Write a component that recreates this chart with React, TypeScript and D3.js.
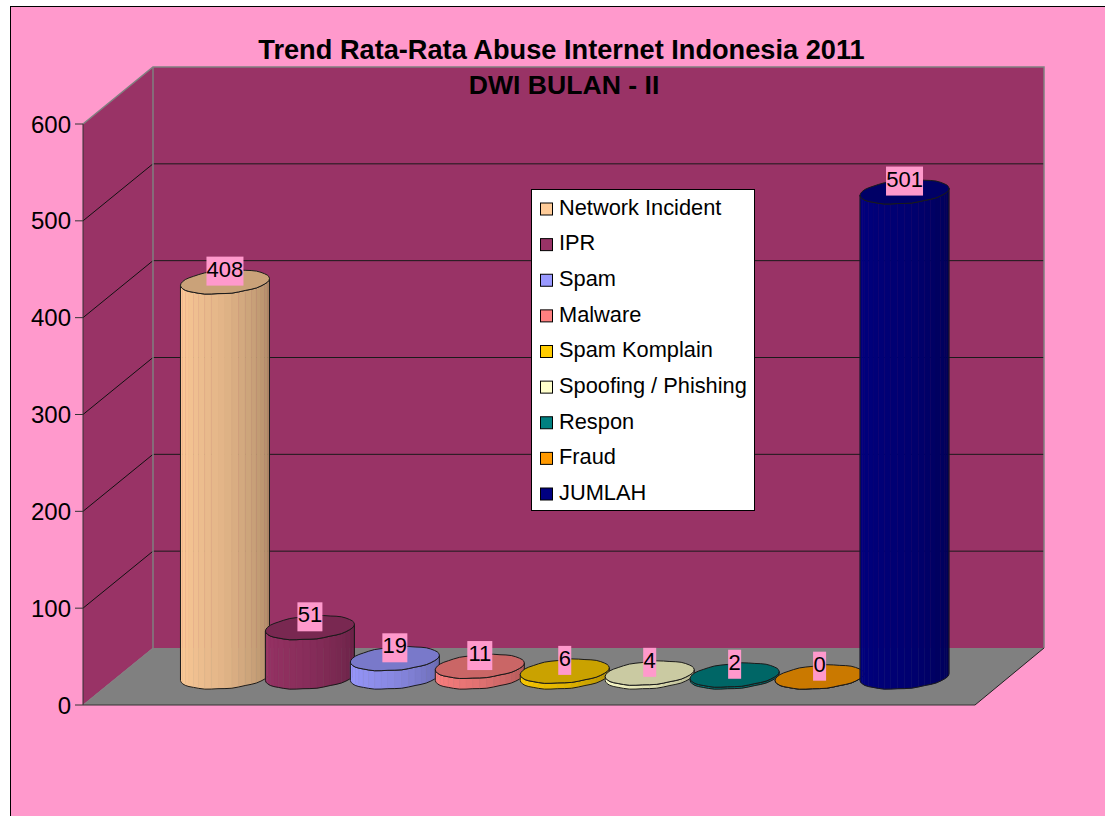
import React from "react";
import * as d3 from "d3";

const categories = ["Network Incident", "IPR", "Spam", "Malware", "Spam Komplain", "Spoofing / Phishing", "Respon", "Fraud", "JUMLAH"];
const values = [408, 51, 19, 11, 6, 4, 2, 0, 501];
const colors = ["#FFCC99", "#993366", "#9999FF", "#FF8080", "#FFCC00", "#FFFFCC", "#008080", "#FF9900", "#000080"];
const tickValues = [0, 100, 200, 300, 400, 500, 600];
const gridValues = [100, 200, 300, 400, 500];
const titleLines = ["Trend Rata-Rata Abuse Internet Indonesia 2011", "DWI BULAN - II"];

const font = "'Liberation Sans', Arial, sans-serif";
const BG = "#FF99CC", WALL = "#993366", FLOOR = "#808080", EDGE = "#808080";
const fx0 = 83, fx1 = 975, bx0 = 153, bx1 = 1044;
const fY = d3.scaleLinear().domain([0, 600]).range([705, 124]);
const bY = d3.scaleLinear().domain([0, 600]).range([648, 67]);
const barY = d3.scaleLinear().domain([0, 600]).range([677, 96]);
const barX = d3.scaleBand<number>().domain(d3.range(categories.length)).range([182.5, 947]).paddingInner(0).paddingOuter(0);
const RX = 44.5, RY = 11.6, TILT = 3.4;
const FACETS = 20;
const pt = (cx: number, cy: number, t: number): [number, number] => [
  cx + RX * Math.cos(t),
  cy + RY * Math.sin(t) - TILT * Math.cos(t) + 0.3 * Math.sin(10 * t) * Math.abs(Math.sin(t)),
];

function Cylinder({ i }: { i: number }) {
  const v = values[i];
  const cx = barX(i)! + barX.bandwidth() / 2;
  const y0 = barY(0), y1 = barY(v);
  const h = y0 - y1;
  const color = colors[i];
  const shade = d3.scaleLinear<string>().domain([0, 0.5, 1]).range([color, d3.rgb(color).darker(0.35).formatHex(), d3.rgb(color).darker(1.1).formatHex()]);
  const topColor = d3.rgb(color).darker(0.65).formatHex();
  const ts = d3.range(0, FACETS + 1).map((k) => Math.PI - (k / FACETS) * Math.PI);
  const line = d3.line();
  const facets = h > 0 ? d3.range(FACETS).map((k) => {
    const a = pt(cx, y0, ts[k]), b = pt(cx, y0, ts[k + 1]);
    const d = line([a, b, [b[0], b[1] - h], [a[0], a[1] - h]])! + "Z";
    return <path key={k} d={d} fill={shade(k / (FACETS - 1))} stroke={shade(k / (FACETS - 1))} strokeWidth={0.4} />;
  }) : null;
  const front = ts.map((t) => pt(cx, y0, t));
  const topFront = ts.map((t) => pt(cx, y1, t)).reverse();
  const outline = line([...front, ...topFront])! + "Z";
  const topAll = d3.range(0, 40).map((k) => pt(cx, y1, (k / 40) * 2 * Math.PI));
  const top = d3.line().curve(d3.curveLinearClosed)(topAll)!;
  return (
    <g>
      {facets}
      <path d={outline} fill="none" stroke="#1a1a1a" strokeWidth={1} />
      <path d={top} fill={topColor} stroke="#1a1a1a" strokeWidth={1} />
    </g>
  );
}

function Label({ i }: { i: number }) {
  const cx = barX(i)! + barX.bandwidth() / 2;
  const cy = barY(values[i]) - 10.8;
  const s = String(values[i]);
  const w = s.length * 12 + 1;
  return (
    <g>
      <rect x={cx - w / 2} y={cy - 14.5} width={w} height={29} fill={BG} />
      <text x={cx} y={cy + 5.5} textAnchor="middle" fontSize={22} fontFamily={font} fill="#000">{s}</text>
    </g>
  );
}

export default function App() {
  const legY = d3.scalePoint<number>().domain(d3.range(categories.length)).range([207, 492]);
  return (
    <svg width={1105} height={816} style={{ position: "absolute", left: 0, top: 0, display: "block" }}>
      <rect x={0} y={0} width={1105} height={816} fill="#fff" />
      <rect x={10.5} y={6.5} width={1110} height={830} fill={BG} stroke="#000" strokeWidth={1} />
      {/* back wall */}
      <rect x={bx0} y={bY(600)} width={bx1 - bx0} height={bY(0) - bY(600)} fill={WALL} />
      {/* side wall */}
      <path d={`M${fx0},${fY(0)}L${fx0},${fY(600)}L${bx0},${bY(600)}L${bx0},${bY(0)}Z`} fill={WALL} />
      {/* floor */}
      <path d={`M${fx0},${fY(0)}L${bx0},${bY(0)}L${bx1},${bY(0)}L${fx1},${fY(0)}Z`} fill={FLOOR} />
      {/* grid */}
      {gridValues.map((v) => (
        <g key={v}>
          <line x1={bx0} x2={bx1} y1={bY(v)} y2={bY(v)} stroke="#1a1a1a" strokeWidth={1} />
          <line x1={fx0} x2={bx0} y1={fY(v)} y2={bY(v)} stroke="#111" strokeWidth={1} />
        </g>
      ))}
      {/* wall edges */}
      <path d={`M${fx0},${fY(600)}L${bx0},${bY(600)}L${bx1},${bY(600)}L${bx1},${bY(0)}`} fill="none" stroke={EDGE} strokeWidth={1.5} />
      <line x1={bx0} x2={bx0} y1={bY(600)} y2={bY(0)} stroke={EDGE} strokeWidth={1.5} />
      <line x1={fx0} x2={bx0} y1={fY(0)} y2={bY(0)} stroke={EDGE} strokeWidth={1} />
      <line x1={bx1} x2={fx1} y1={bY(0)} y2={fY(0)} stroke="#222" strokeWidth={1} />
      {/* axes */}
      <line x1={fx0} x2={fx0} y1={fY(600)} y2={fY(0)} stroke="#333" strokeWidth={1} />
      <line x1={fx0} x2={fx1} y1={fY(0)} y2={fY(0)} stroke="#333" strokeWidth={1} />
      {tickValues.map((v) => (
        <g key={v}>
          <line x1={75} x2={fx0} y1={fY(v)} y2={fY(v)} stroke="#333" strokeWidth={1} />
          <text x={71} y={fY(v) + 8.5} textAnchor="end" fontSize={24} fontFamily={font} fill="#000">{v}</text>
        </g>
      ))}
      {values.map((_, i) => <Cylinder key={i} i={i} />)}
      {values.map((_, i) => <Label key={i} i={i} />)}
      {/* title */}
      <text x={561.5} y={58.5} textAnchor="middle" fontSize={27.2} fontWeight="bold" fontFamily={font} fill="#000">{titleLines[0]}</text>
      <text x={564} y={94} textAnchor="middle" fontSize={26.6} fontWeight="bold" fontFamily={font} fill="#000">{titleLines[1]}</text>
      {/* legend */}
      <rect x={531.5} y={189.5} width={223} height={321} fill="#fff" stroke="#000" strokeWidth={1} />
      {categories.map((c, i) => (
        <g key={c}>
          <rect x={540.5} y={legY(i)! - 4} width={12} height={12} fill={colors[i]} stroke="#000" strokeWidth={1} />
          <text x={559} y={legY(i)! + 7.8} fontSize={21.8} fontFamily={font} fill="#000">{c}</text>
        </g>
      ))}
    </svg>
  );
}
